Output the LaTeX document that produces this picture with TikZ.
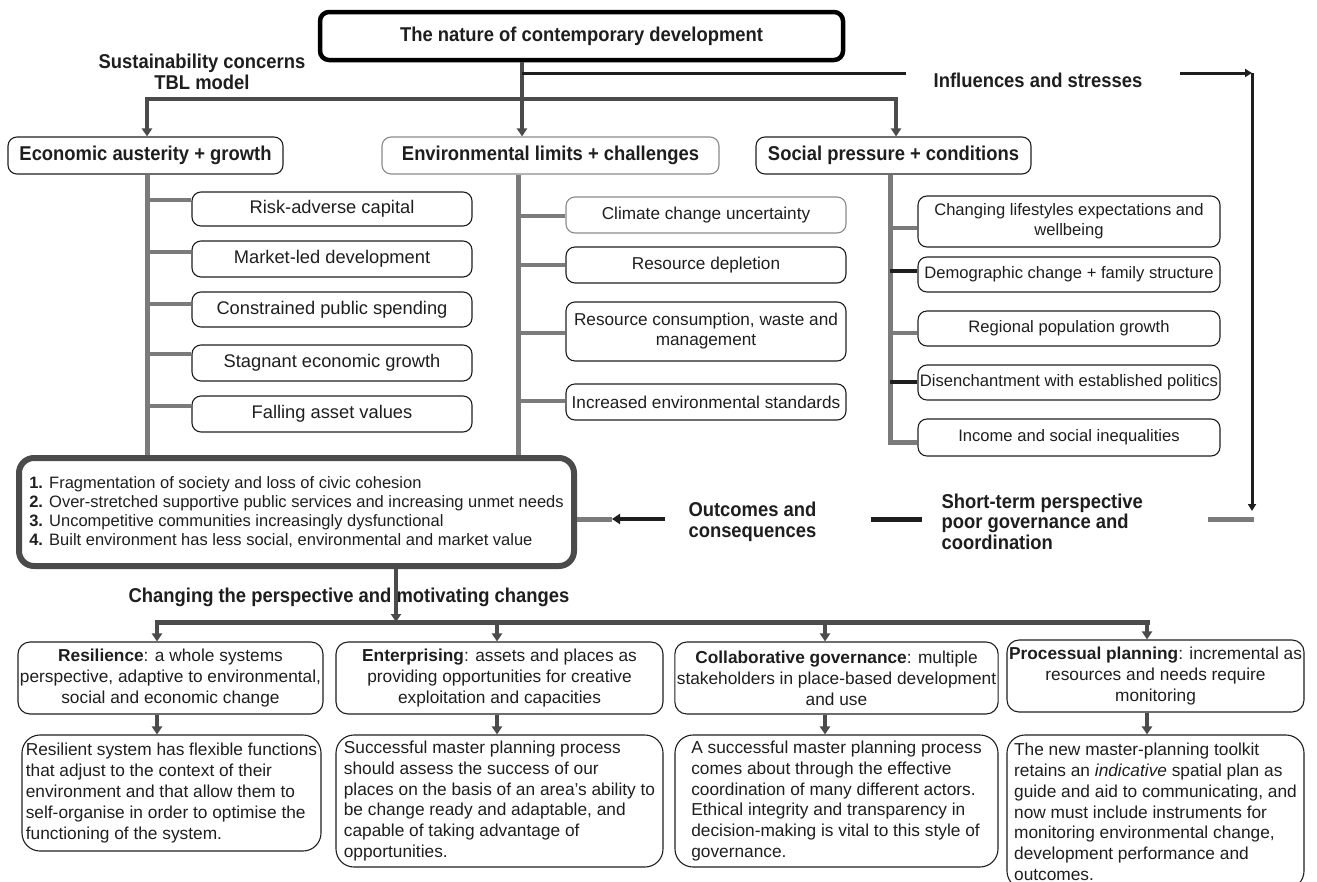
\documentclass[tikz,border=0pt]{standalone}
\usepackage{fontspec}
\setmainfont{Liberation Sans}
\newfontfamily\hdfont[FakeStretch=0.92]{Liberation Sans}
\usetikzlibrary{arrows.meta,calc}
\definecolor{lgray}{HTML}{7B7B7B}
\definecolor{dgray}{HTML}{4B4B4B}
\definecolor{ink}{HTML}{1E1E1E}
\definecolor{lborder}{HTML}{8A8A8A}
\begin{document}
\begin{tikzpicture}[x=1pt,y=-1pt,
  hd/.style={font=\hdfont\bfseries\fontsize{20}{20.5}\selectfont, text=ink},
  box/.style={draw=ink, line width=1.1pt, rounded corners=9pt, inner sep=2pt, text=ink},
  hbox/.style={box, hd, minimum height=37pt},
  ebox/.style={box, minimum width=280pt, font=\fontsize{18.3}{20}\selectfont},
  vbox/.style={box, minimum width=280pt, font=\fontsize{17.2}{20}\selectfont, align=center},
  sbox/.style={box, minimum width=302pt, font=\fontsize{16.6}{20}\selectfont, align=center},
  rbox/.style={box, rounded corners=12pt, minimum height=72pt, align=center, font=\fontsize{17.3}{21}\selectfont},
  dbox/.style={box, rounded corners=18pt, align=left, font=\fontsize{17.3}{20.8}\selectfont},
  gl/.style={draw=lgray, line width=4.5pt},
  dl/.style={draw=dgray, line width=4pt},
  bl/.style={draw=ink, line width=3pt},
  tip/.style={-{Triangle[length=8pt,width=10pt]}},
  btip/.style={-{Triangle[length=7pt,width=8pt]}},
]
\useasboundingbox (0,0) rectangle (1317,881);
\clip (0,0) rectangle (1317,881);

% ---------- top ----------
\node[box, hd, draw=black, line width=4.5pt, rounded corners=9pt, minimum width=523pt, minimum height=48pt] (title) at (581.5,36) {The nature of contemporary development};
\node[hd, align=center] (sus) at (202,72) {Sustainability concerns\\TBL model};
\node[hd] (infl) at (1038,80) {Influences and stresses};

\node[hbox, minimum width=275pt] (econ) at (145.5,155.5) {Economic austerity + growth};
\node[hbox, minimum width=337pt, draw=lborder] (env) at (550.5,155.5) {Environmental limits + challenges};
\node[hbox, minimum width=275pt] (soc) at (893.5,155.5) {Social pressure + conditions};

% ---------- economic items ----------
\node[ebox, minimum height=34pt] (e1) at (332,209) {Risk-adverse capital};
\node[ebox, minimum height=36pt] (e2) at (332,259) {Market-led development};
\node[ebox, minimum height=35pt] (e3) at (332,309.5) {Constrained public spending};
\node[ebox, minimum height=36pt] (e4) at (332,363) {Stagnant economic growth};
\node[ebox, minimum height=36pt] (e5) at (332,414) {Falling asset values};

% ---------- environmental items ----------
\node[vbox, minimum height=36pt, draw=lborder] (v1) at (706,215) {Climate change uncertainty};
\node[vbox, minimum height=36pt] (v2) at (706,265) {Resource depletion};
\node[vbox, minimum height=59pt] (v3) at (706,331.5) {Resource consumption, waste and\\management};
\node[vbox, minimum height=36pt] (v4) at (706,402) {Increased environmental standards};

% ---------- social items ----------
\node[sbox, minimum height=51pt] (s1) at (1069,221.5) {Changing lifestyles expectations and\\wellbeing};
\node[sbox, minimum height=35pt] (s2) at (1069,274.5) {Demographic change + family structure};
\node[sbox, minimum height=35pt] (s3) at (1069,328.5) {Regional population growth};
\node[sbox, minimum height=35pt] (s4) at (1069,382.5) {Disenchantment with established politics};
\node[sbox, minimum height=37pt] (s5) at (1069,437.5) {Income and social inequalities};

% ---------- outcomes ----------
\node[box, draw=dgray, line width=6pt, rounded corners=15pt, minimum width=555pt, minimum height=108pt, align=left, font=\fontsize{16.5}{19}\selectfont] (out) at (296.5,512)
{\textbf{1.} Fragmentation of society and loss of civic cohesion\\
\textbf{2.} Over-stretched supportive public services and increasing unmet needs\\
\textbf{3.} Uncompetitive communities increasingly dysfunctional\\
\textbf{4.} Built environment has less social, environmental and market value};
\node[hd, align=left, anchor=west] (oc) at (685,522) {Outcomes and\\consequences};
\node[hd, align=left, anchor=west] (short) at (938,521.5) {Short-term perspective\\poor governance and\\coordination};
\node[hd] (chg) at (349,597) {Changing the perspective and motivating changes};

% ---------- bottom rows ----------
\node[rbox, minimum width=301pt] (r1) at (170.5,678) {\textbf{Resilience}: a whole systems\\perspective, adaptive to environmental,\\social and economic change};
\node[rbox, minimum width=327pt] (r2) at (499.5,678) {\textbf{Enterprising}: assets and places as\\providing opportunities for creative\\exploitation and capacities};
\node[rbox, minimum width=323pt] (r3) at (836.5,678) {\textbf{Collaborative governance}: multiple\\stakeholders in place-based development\\and use};
\node[rbox, minimum width=297pt] (r4) at (1155.5,676) {\textbf{Processual planning}: incremental as\\resources and needs require\\monitoring};

\node[dbox, minimum width=299pt, minimum height=116pt] (d1) at (171.5,793) {Resilient system has flexible functions\\that adjust to the context of their\\environment and that allow them to\\self-organise in order to optimise the\\functioning of the system.};
\node[dbox, minimum width=327pt, minimum height=132pt] (d2) at (499.5,801) {Successful master planning process\\should assess the success of our\\places on the basis of an area’s ability to\\be change ready and adaptable, and\\capable of taking advantage of\\opportunities.};
\node[dbox, minimum width=323pt, minimum height=132pt] (d3) at (836.5,801) {A successful master planning process\\comes about through the effective\\coordination of many different actors.\\Ethical integrity and transparency in\\decision-making is vital to this style of\\governance.};
\node[dbox, minimum width=297pt, minimum height=154pt] (d4) at (1155.5,812) {The new master-planning toolkit\\retains an \textit{indicative} spatial plan as\\guide and aid to communicating, and\\now must include instruments for\\monitoring environmental change,\\development performance and\\outcomes.};

% ---------- helper coordinates ----------
\coordinate (xE) at (522,0);
\coordinate (yBar) at (0,99);
\coordinate (eX) at (147,0);
\coordinate (sX) at (896,0);
\coordinate (yI) at (0,73);
\coordinate (iEnd) at (906,73);
\coordinate (iStart) at (1180,73);
\coordinate (rc) at (1252,73);
\coordinate (rEnd) at (1252,511);
\coordinate (g1) at (1208,519);
\coordinate (g2) at (1253.5,519);
\coordinate (m1) at (871,519);
\coordinate (m2) at (922,519);
\coordinate (a1) at (665,519);
\coordinate (a2) at (612,519);
\coordinate (xD) at (396,0);
\coordinate (b1) at (157,622);
\coordinate (b2) at (497,622);
\coordinate (b3) at (825,622);
\coordinate (b4) at (1147,622);
\coordinate (vX) at (518,0);
\coordinate (sV) at (890,0);

% ---------- top connectors ----------
\draw[dl, line width=3.5pt, tip] (title.south -| xE) -- (env.north -| xE);
\draw[dl, line width=4.5pt, tip] (xE |- yBar) -| (econ.north -| eX);
\draw[dl, line width=4.5pt, tip] (xE |- yBar) -| (soc.north -| sX);
\draw[bl] (xE |- yI) -- (iEnd);
\draw[bl, btip] (iStart) -- (rc);
\draw[bl, btip] (rc) -- (rEnd);

% ---------- economic branches ----------
\coordinate (eb1) at (147,200);
\coordinate (eb2) at (147,252);
\coordinate (eb3) at (147,304);
\coordinate (eb4) at (147,354);
\coordinate (eb5) at (147,406);
\draw[gl, line width=5pt] (econ.south -| eX) -- (out.north -| eX);
\draw[gl] (eb1) -- (eb1 -| e1.west);
\draw[gl] (eb2) -- (eb2 -| e2.west);
\draw[gl] (eb3) -- (eb3 -| e3.west);
\draw[gl] (eb4) -- (eb4 -| e4.west);
\draw[gl] (eb5) -- (eb5 -| e5.west);

% ---------- environmental branches ----------
\coordinate (vb1) at (518,216);
\coordinate (vb2) at (518,265);
\coordinate (vb3) at (518,333);
\coordinate (vb4) at (518,401);
\draw[gl, line width=5pt] (env.south -| vX) -- (out.north -| vX);
\draw[gl] (vb1) -- (vb1 -| v1.west);
\draw[gl] (vb2) -- (vb2 -| v2.west);
\draw[gl] (vb3) -- (vb3 -| v3.west);
\draw[gl] (vb4) -- (vb4 -| v4.west);

% ---------- social branches ----------
\coordinate (sb1) at (890,228);
\coordinate (sb2) at (890,271);
\coordinate (sb3) at (890,333);
\coordinate (sb4) at (890,382);
\coordinate (sb5) at (890,442);
\draw[gl, line width=5pt] (soc.south -| sV) -- (sb5) -- (sb5 -| s5.west);
\draw[gl] (sb1) -- (sb1 -| s1.west);
\draw[gl, draw=ink] (sb2) -- (sb2 -| s2.west);
\draw[gl] (sb3) -- (sb3 -| s3.west);
\draw[gl, draw=ink] (sb4) -- (sb4 -| s4.west);

% ---------- outcomes connectors ----------
\draw[draw=lgray, line width=5pt] (g1) -- (g2);
\draw[draw=ink, line width=5pt] (m1) -- (m2);
\draw[draw=lgray, line width=5pt] (out.east |- a2) -- (a2);
\draw[draw=ink, line width=4pt, tip] (a1) -- (a2);

% ---------- bottom connectors ----------
\draw[dl, line width=3.5pt, tip] (out.south -| xD) -- (xD |- b1);
\draw[dl, line width=5pt, line cap=rect] (b1) -- (b4);
\draw[dl, tip] (b1) -- (r1.north -| b1);
\draw[dl, tip] (b2) -- (r2.north -| b2);
\draw[dl, tip] (b3) -- (r3.north -| b3);
\draw[dl, tip] (b4) -- (r4.north -| b4);
\draw[dl, tip] (r1.south -| b1) -- (d1.north -| b1);
\draw[dl, tip] (r2.south -| b2) -- (d2.north -| b2);
\draw[dl, tip] (r3.south -| b3) -- (d3.north -| b3);
\draw[dl, tip] (r4.south -| b4) -- (d4.north -| b4);
\end{tikzpicture}
\end{document}
